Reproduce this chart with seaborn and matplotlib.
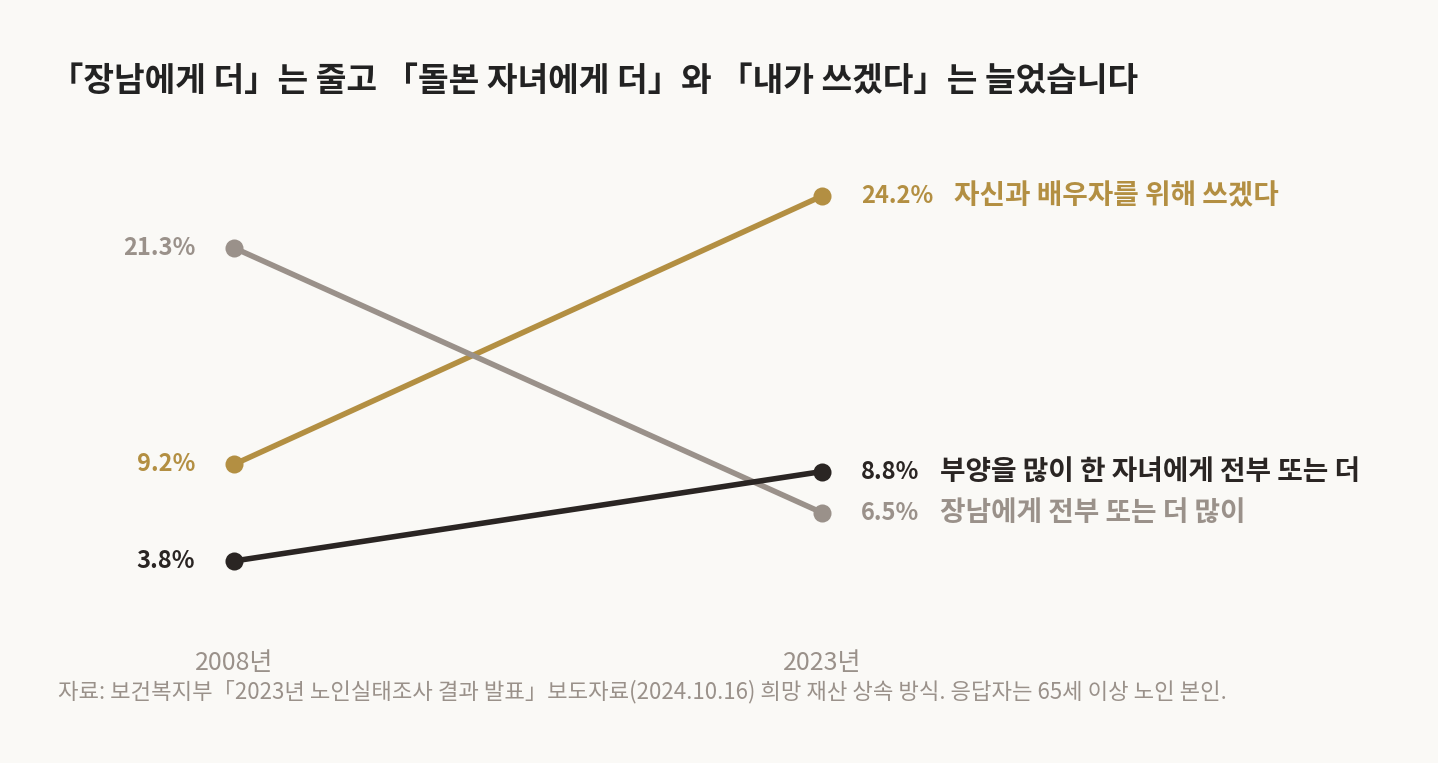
import pandas as pd
import numpy as np
import matplotlib.pyplot as plt
import seaborn as sns

years = ["2008년", "2023년"]
series = ["자신과 배우자를 위해 쓰겠다", "장남에게 전부 또는 더 많이", "부양을 많이 한 자녀에게 전부 또는 더"]
v2008 = [9.2, 21.3, 3.8]
v2023 = [24.2, 6.5, 8.8]
colors = ["#b38f42", "#9a918a", "#2a2523"]

title = "「장남에게 더」는 줄고 「돌본 자녀에게 더」와 「내가 쓰겠다」는 늘었습니다"
source = "자료: 보건복지부「2023년 노인실태조사 결과 발표」보도자료(2024.10.16) 희망 재산 상속 방식. 응답자는 65세 이상 노인 본인."

rows = []
for s, a, b in zip(series, v2008, v2023):
    rows.append({"series": s, "x": 0, "value": a})
    rows.append({"series": s, "x": 1, "value": b})
df = pd.DataFrame(rows)

sns.set_theme(style="white")
plt.rcParams["font.family"] = ["Noto Sans CJK KR", "DejaVu Sans"]
bg = "#faf9f6"

fig = plt.figure(figsize=(14.38, 7.63), dpi=100, facecolor=bg)
ax = fig.add_axes([234 / 1438, (763 - 629) / 763, (822 - 234) / 1438, (629 - 196) / 763])
ax.set_facecolor(bg)

sns.lineplot(data=df, x="x", y="value", hue="series", hue_order=series,
             palette=colors, marker="o", markersize=13, markeredgewidth=0,
             linewidth=4, legend=False, ax=ax, clip_on=False)

ax.set_xlim(0, 1)
ax.set_ylim(0, 24.2)
ax.set_yticks([])
ax.set_xticks([0, 1])
ax.set_xticklabels(years, fontsize=18, color="#9a918a")
ax.tick_params(axis="x", length=0, pad=15)
ax.set_xlabel("")
ax.set_ylabel("")
for sp in ax.spines.values():
    sp.set_visible(False)

for s, a, b, c in zip(series, v2008, v2023, colors):
    ax.annotate(f"{a}%", (0, a), xytext=(-28, 0), textcoords="offset points",
                ha="right", va="center", fontsize=17, fontweight="bold", color=c)
    val = ax.annotate(f"{b}%", (1, b), xytext=(28, 0), textcoords="offset points",
                      ha="left", va="center", fontsize=17, fontweight="bold", color=c)
    ax.annotate(s, xy=(1, 0.5), xycoords=val, xytext=(15, 0), textcoords="offset points",
                ha="left", va="center", fontsize=20, fontweight="bold", color=c)

fig.text(50 / 1438, 1 - 82 / 763, title, fontsize=24, fontweight="bold",
         color="#222222", ha="left", va="center")
fig.text(58 / 1438, 1 - 692 / 763, source, fontsize=16, color="#9a918a",
         ha="left", va="center")

fig.savefig("out.png", dpi=100, facecolor=bg)
